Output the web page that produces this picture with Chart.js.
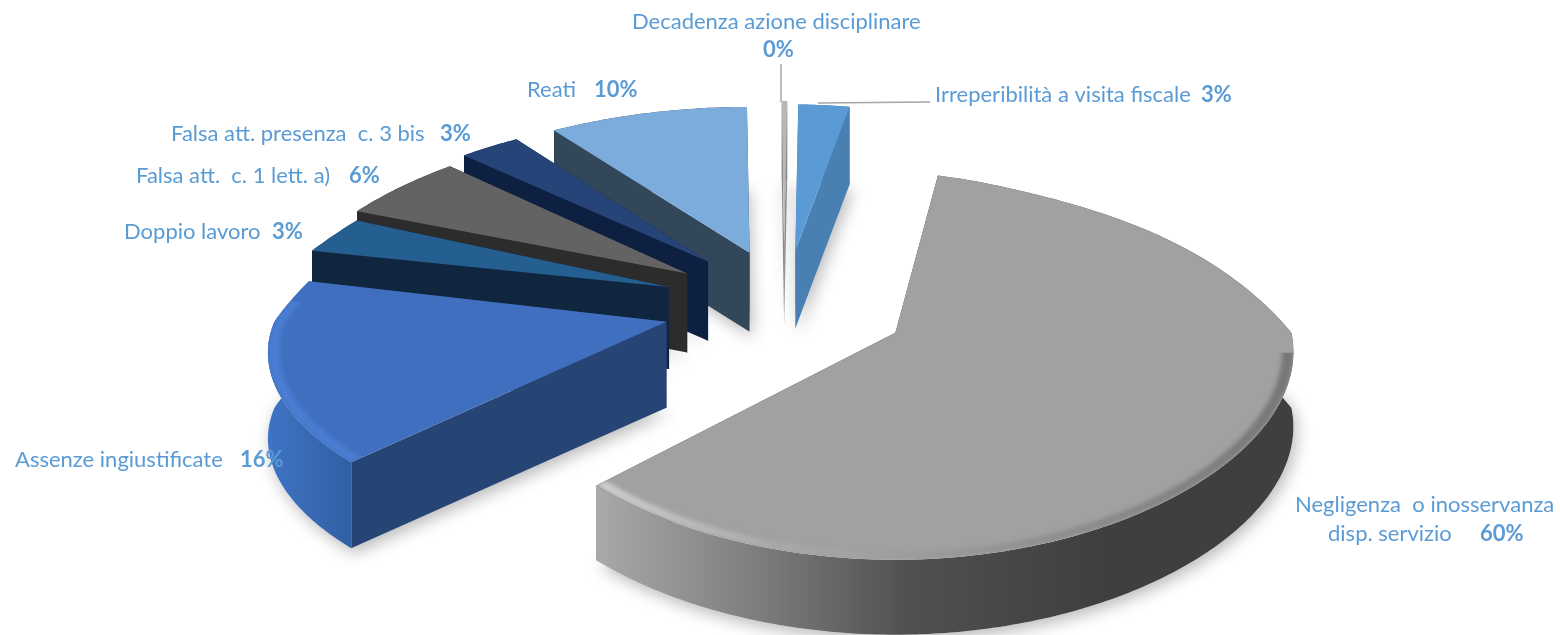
<!DOCTYPE html>
<html lang="it">
<head>
<meta charset="utf-8">
<title>Tipologie di infrazione</title>
<script src="https://cdn.jsdelivr.net/npm/chart.js@4"></script>
<style>
  html, body { margin: 0; background: #fff; }
  #box { width: 1560px; height: 635px; position: relative; overflow: hidden; }
</style>
</head>
<body>
<div id="box"><canvas id="grafico"></canvas></div>
<script>
const categorie = [
  'Irreperibilità a visita fiscale',
  'Negligenza  o inosservanza disp. servizio',
  'Assenze ingiustificate',
  'Doppio lavoro',
  'Falsa att.  c. 1 lett. a)',
  'Falsa att. presenza  c. 3 bis',
  'Reati',
  'Decadenza azione disciplinare'
];
const valori = [3, 60, 16, 3, 6, 3, 10, 0.3];

const coloriTop = ['#5b9bd5', '#a1a1a1', '#416fc0', '#255e91', '#636363', '#264478', '#7cacdb', '#b8b8b8'];
const coloriLato = ['#4a7fb2', '#3f3f3f', '#274574', '#10263f', '#2d2c2c', '#0e2041', '#33475b', '#8a8a8a'];

// esplosione e forma di ogni fetta
const esplosione = [110, 126, 123, 120, 115, 115, 110, 116];
const spessori = [78, 75, 86, 82, 79, 79, 79, 78];
const raggioY = [175.5, 187.6, 165, 175.5, 175.5, 175.5, 175.5, 175.5];
const prospY = [0.227, 0.173, 0.227, 0.227, 0.227, 0.227, 0.227, 0.227];
const retroY = [1.02, 1, 1.3, 1.1, 1.03, 1.02, 1.02, 1.02];
const scalaX = [1, 0.99, 0.98, 1, 1, 1, 1, 1];
const retroX = [0.45, 0.38, 0.38, 0.5, 0.33, 0.28, 0.25, 0.38];
const fronteX = [0.1, 0.1, 0.18, 0.1, 0.1, 0.1, 0.1, 0.1];
const RAGGIO_X = 400, SCHIACCIA = 0.49;

function proietta(i, ang, r) {
  const t = ang + Math.PI / 2;
  const u = Math.sin(t) * r, v = Math.cos(t) * r;
  let dx = v > 0 ? 1 + retroX[i] * v : 1 + fronteX[i] * v;
  if (i === 1 && v > 0) dx += 0.5 * Math.pow(v, 6);
  return {
    x: RAGGIO_X * scalaX[i] * u / dx,
    y: -raggioY[i] * (v > 0 ? retroY[i] : 1) * v / (1 + prospY[i] * v)
  };
}

function spigolo(el) {
  const mid = (el.startAngle + el.endAngle) / 2;
  return {
    x: el.x + Math.cos(mid) * el.options.offset,
    y: el.y + Math.sin(mid) * el.options.offset * SCHIACCIA
  };
}

function arco(el, i, r) {
  const punti = [];
  const passi = Math.max(2, Math.ceil((el.endAngle - el.startAngle) / 0.015));
  const o = spigolo(el);
  for (let k = 0; k <= passi; k++) {
    const p = proietta(i, el.startAngle + (el.endAngle - el.startAngle) * k / passi, r);
    punti.push({ x: o.x + p.x, y: o.y + p.y });
  }
  return punti;
}

function traccia(ctx, punti, dy = 0) {
  ctx.beginPath();
  punti.forEach((p, k) => k ? ctx.lineTo(p.x, p.y + dy) : ctx.moveTo(p.x, p.y + dy));
  ctx.closePath();
}

function gradienteLato(ctx, i) {
  if (i === 1) {
    const g = ctx.createLinearGradient(597, 0, 1100, 0);
    g.addColorStop(0, '#a9a9a9');
    g.addColorStop(0.3, '#808080');
    g.addColorStop(0.62, '#505050');
    g.addColorStop(1, '#3f3f3f');
    return g;
  }
  if (i === 2) {
    const g = ctx.createLinearGradient(268, 0, 362, 0);
    g.addColorStop(0, '#3f73c4');
    g.addColorStop(1, '#2f5c9e');
    return g;
  }
  return coloriLato[i];
}

function gradienteBordo(ctx, i) {
  if (i === 1) {
    const g = ctx.createLinearGradient(597, 0, 1293, 0);
    g.addColorStop(0, '#cfcfcf');
    g.addColorStop(0.25, '#aaaaaa');
    g.addColorStop(0.6, '#929292');
    g.addColorStop(1, '#767676');
    return g;
  }
  return '#4a7dd2';
}

const torta3d = {
  id: 'torta3d',
  beforeDatasetDraw(chart) {
    const ctx = chart.ctx;
    const archi = chart.getDatasetMeta(0).data;
    const ordine = archi.map((el, i) => i).sort((a, b) => spigolo(archi[a]).y - spigolo(archi[b]).y);

    // ombre della base
    ctx.save();
    ctx.beginPath();
    ctx.rect(0, 178, 1560, 457);
    ctx.clip();
    ordine.forEach(i => {
      const el = archi[i];
      ctx.save();
      ctx.shadowColor = 'rgba(0,0,0,0.28)';
      ctx.shadowBlur = 16;
      ctx.shadowOffsetX = 3;
      ctx.shadowOffsetY = 5;
      ctx.fillStyle = '#fff';
      traccia(ctx, [spigolo(el), ...arco(el, i, 1)], spessori[i]);
      ctx.fill();
      ctx.restore();
    });
    ctx.restore();

    ordine.forEach(i => {
      const el = archi[i];
      const o = spigolo(el);
      const bordo = arco(el, i, 1);
      const primo = bordo[0], ultimo = bordo[bordo.length - 1];
      const h = spessori[i];

      // pareti radiali
      ctx.fillStyle = coloriLato[i];
      [primo, ultimo].forEach(p => {
        traccia(ctx, [o, p, { x: p.x, y: p.y + h }, { x: o.x, y: o.y + h }]);
        ctx.fill();
      });

      // parete esterna
      ctx.fillStyle = gradienteLato(ctx, i);
      traccia(ctx, [...bordo, ...bordo.slice().reverse().map(p => ({ x: p.x, y: p.y + h }))]);
      ctx.fill();

      // faccia superiore
      ctx.fillStyle = coloriTop[i];
      traccia(ctx, [o, ...bordo]);
      ctx.fill();

      // smusso sul bordo, solo verso chi guarda
      if (i === 1 || i === 2) {
        ctx.save();
        traccia(ctx, [o, ...bordo]);
        ctx.clip();
        ctx.beginPath();
        ctx.rect(0, o.y + (i === 1 ? 20 : -20), 1560, 635);
        ctx.clip();
        ctx.filter = 'blur(2px)';
        ctx.fillStyle = gradienteBordo(ctx, i);
        const interno = arco(el, i, 0.972);
        traccia(ctx, [...bordo, ...interno.reverse()]);
        ctx.fill();
        ctx.restore();
      }
    });
    return false;
  },
  afterDatasetsDraw(chart) {
    const ctx = chart.ctx;
    ctx.save();
    // linee guida
    ctx.strokeStyle = '#a6a6a6';
    ctx.lineWidth = 1.5;
    ctx.beginPath();
    ctx.moveTo(781, 64); ctx.lineTo(781, 102);
    ctx.moveTo(818, 103); ctx.lineTo(930, 102);
    ctx.stroke();

    ctx.fillStyle = '#5b9bd5';
    ctx.textBaseline = 'middle';
    ctx.textAlign = 'left';
    etichette.forEach(e => {
      ctx.font = '22px Lato';
      if (e.testo) ctx.fillText(e.testo, e.x, e.y);
      if (e.i !== undefined) {
        ctx.font = 'bold 22px Lato';
        ctx.fillText(Math.round(valori[e.i]) + '%', e.xp, e.yp || e.y);
      }
    });
    ctx.restore();
  }
};

// posizione delle etichette
const etichette = [
  { testo: categorie[7], x: 632, y: 22, i: 7, xp: 763, yp: 50 },
  { testo: categorie[0], x: 935, y: 95, i: 0, xp: 1201 },
  { testo: categorie[6], x: 527, y: 90, i: 6, xp: 594 },
  { testo: categorie[5], x: 171, y: 134, i: 5, xp: 440 },
  { testo: categorie[4], x: 136, y: 176, i: 4, xp: 349 },
  { testo: categorie[3], x: 124, y: 232, i: 3, xp: 272 },
  { testo: categorie[2], x: 15, y: 460, i: 2, xp: 240 },
  { testo: 'Negligenza  o inosservanza', x: 1295, y: 505 },
  { testo: 'disp. servizio', x: 1328, y: 534, i: 1, xp: 1480 }
];

new Chart(document.getElementById('grafico'), {
  type: 'pie',
  data: {
    labels: categorie,
    datasets: [{
      data: valori,
      backgroundColor: coloriTop,
      borderWidth: 0,
      offset: esplosione
    }]
  },
  options: {
    responsive: true,
    maintainAspectRatio: false,
    animation: false,
    rotation: 0.6,
    layout: { padding: { left: 8, bottom: 27 } },
    plugins: {
      legend: { display: false },
      tooltip: { enabled: false }
    }
  },
  plugins: [torta3d]
});
</script>
</body>
</html>
